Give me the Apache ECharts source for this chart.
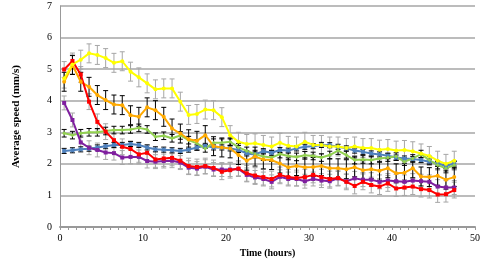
<!DOCTYPE html>
<html>
<head>
<meta charset="utf-8">
<script src="https://cdn.jsdelivr.net/npm/echarts@6/dist/echarts.min.js"></script>
<style>
    html, body { margin: 0; padding: 0; background: #fff; }
    #speed { width: 500px; height: 264px; }
</style>
</head>
<body>
<div id="speed"></div>
<script>
// sample times (hours)
var hours = [0.5, 1.5, 2.5, 3.5, 4.5, 5.5, 6.5, 7.5, 8.5, 9.5, 10.5, 11.5, 12.5, 13.5, 14.5, 15.5,
    16.5, 17.5, 18.5, 19.5, 20.5, 21.5, 22.5, 23.5, 24.5, 25.5, 26.5, 27.5, 28.5, 29.5, 30.5, 31.5,
    32.5, 33.5, 34.5, 35.5, 36.5, 37.5, 38.5, 39.5, 40.5, 41.5, 42.5, 43.5, 44.5, 45.5, 46.5, 47.5];

// average speed (mm/s) per series
var yellow = [4.70, 5.15, 5.30, 5.50, 5.45, 5.35, 5.20, 5.25, 4.92, 4.74, 4.55, 4.36, 4.39, 4.39, 3.97, 3.55,
    3.58, 3.72, 3.70, 3.48, 2.91, 2.70, 2.63, 2.65, 2.60, 2.55, 2.67, 2.57, 2.55, 2.70, 2.60, 2.60,
    2.55, 2.55, 2.50, 2.55, 2.50, 2.50, 2.45, 2.47, 2.42, 2.44, 2.40, 2.33, 2.25, 2.10, 2.00, 2.10];
var orange = [4.60, 5.13, 4.60, 4.44, 4.18, 4.02, 3.88, 3.86, 3.54, 3.49, 3.79, 3.70, 3.49, 3.12, 2.96, 2.78,
    2.73, 2.91, 2.56, 2.52, 2.49, 2.28, 2.10, 2.23, 2.14, 2.12, 2.01, 1.89, 1.93, 1.89, 1.90, 1.93,
    1.86, 1.86, 1.83, 1.89, 1.80, 1.83, 1.78, 1.86, 1.70, 1.72, 1.86, 1.60, 1.58, 1.62, 1.50, 1.58];
var green = [2.97, 2.91, 2.97, 3.00, 3.00, 3.04, 3.07, 3.07, 3.09, 3.14, 3.09, 2.86, 2.89, 2.81, 2.90, 2.75,
    2.65, 2.49, 2.67, 2.67, 2.70, 2.52, 2.41, 2.31, 2.23, 2.20, 2.31, 2.25, 2.22, 2.27, 2.25, 2.20,
    2.28, 2.42, 2.28, 2.12, 2.14, 2.12, 2.17, 2.20, 2.23, 2.07, 2.17, 2.31, 2.12, 1.96, 1.86, 1.96];
var blue = [2.41, 2.43, 2.46, 2.48, 2.52, 2.56, 2.60, 2.60, 2.63, 2.60, 2.52, 2.46, 2.45, 2.43, 2.41, 2.45,
    2.52, 2.57, 2.52, 2.52, 2.49, 2.44, 2.33, 2.30, 2.40, 2.35, 2.44, 2.42, 2.49, 2.54, 2.56, 2.60,
    2.59, 2.54, 2.49, 2.42, 2.38, 2.33, 2.30, 2.26, 2.20, 2.17, 2.15, 2.12, 2.07, 2.01, 1.93, 2.01];
var red = [4.99, 5.26, 4.83, 3.97, 3.33, 3.02, 2.75, 2.54, 2.47, 2.30, 2.35, 2.14, 2.17, 2.19, 2.10, 1.93,
    1.90, 1.93, 1.87, 1.75, 1.80, 1.85, 1.70, 1.63, 1.58, 1.52, 1.65, 1.58, 1.55, 1.58, 1.65, 1.58,
    1.52, 1.55, 1.43, 1.30, 1.43, 1.33, 1.28, 1.38, 1.22, 1.25, 1.28, 1.20, 1.17, 1.03, 1.04, 1.17];
var purple = [3.93, 3.39, 2.68, 2.51, 2.44, 2.36, 2.34, 2.20, 2.22, 2.22, 2.09, 2.07, 2.09, 2.10, 2.04, 1.88,
    1.85, 1.91, 1.82, 1.82, 1.82, 1.84, 1.65, 1.57, 1.52, 1.43, 1.59, 1.52, 1.52, 1.45, 1.52, 1.47,
    1.45, 1.54, 1.45, 1.54, 1.50, 1.50, 1.43, 1.47, 1.45, 1.43, 1.47, 1.45, 1.43, 1.28, 1.25, 1.25];

// half length of the error bars (mm/s)
var errYellow = 0.3, errOrange = 0.3, errGreen = 0.12, errBlue = 0.08, errRed = 0.25, errPurple = 0.22;

var serif = 'Liberation Serif';
var myChart = echarts.init(document.getElementById('speed'));

function lineSeries(name, vals, color, symbol) {
    return {
        type: 'line',
        name: name,
        z: 3,
        data: vals.map(function (v, i) { return [hours[i], v]; }),
        symbol: symbol,
        symbolSize: 4,
        lineStyle: { color: color, width: 2 },
        itemStyle: { color: color },
        animation: false
    };
}

function errSeries(name, vals, err, color) {
    return {
        type: 'custom',
        name: name + ' err',
        z: 2,
        silent: true,
        data: vals.map(function (v, i) { return [hours[i], v - err, v + err]; }),
        renderItem: function (params, api) {
            var top = api.coord([api.value(0), api.value(2)]);
            var bot = api.coord([api.value(0), api.value(1)]);
            var w = 2.5;
            var st = { stroke: color, lineWidth: 1 };
            return {
                type: 'group',
                children: [
                    { type: 'line', shape: { x1: top[0], y1: top[1], x2: bot[0], y2: bot[1] }, style: st },
                    { type: 'line', shape: { x1: top[0] - w, y1: top[1], x2: top[0] + w, y2: top[1] }, style: st },
                    { type: 'line', shape: { x1: bot[0] - w, y1: bot[1], x2: bot[0] + w, y2: bot[1] }, style: st }
                ]
            };
        },
        animation: false
    };
}

var grey = '#a6a6a6';

myChart.setOption({
    backgroundColor: '#fff',
    grid: { left: 60, right: 25, top: 6, bottom: 37 },
    xAxis: {
        type: 'value',
        min: 0, max: 50, interval: 10,
        name: 'Time (hours)',
        nameLocation: 'middle',
        nameGap: 21,
        nameTextStyle: { fontFamily: serif, fontWeight: 'bold', fontSize: 10, color: '#000' },
        axisLine: { lineStyle: { color: '#999', width: 2 } },
        axisTick: { show: true, length: 3, lineStyle: { color: '#999' } },
        minorTick: { show: true, splitNumber: 10, length: 3, lineStyle: { color: '#999' } },
        axisLabel: { fontFamily: serif, fontSize: 10, color: '#000', margin: 6 },
        splitLine: { show: false }
    },
    yAxis: {
        type: 'value',
        min: 0, max: 7, interval: 1,
        name: 'Average speed (mm/s)',
        nameLocation: 'middle',
        nameGap: 38,
        nameTextStyle: { fontFamily: serif, fontWeight: 'bold', fontSize: 11, color: '#000' },
        axisLine: { show: true, lineStyle: { color: '#999', width: 1 } },
        axisTick: { show: false },
        axisLabel: { fontFamily: serif, fontSize: 10, color: '#000', margin: 8 },
        splitLine: { lineStyle: { color: grey, width: 1.5 } }
    },
    series: [
        errSeries('yellow', yellow, errYellow, grey),
        errSeries('red', red, errRed, grey),
        errSeries('purple', purple, errPurple, grey),
        errSeries('orange', orange, errOrange, '#000'),
        errSeries('green', green, errGreen, '#000'),
        errSeries('blue', blue, errBlue, '#000'),
        lineSeries('blue', blue, '#4f81bd', 'rect'),
        lineSeries('green', green, '#92d050', 'diamond'),
        lineSeries('purple', purple, '#7f1f9f', 'rect'),
        lineSeries('orange', orange, '#ffaa00', 'circle'),
        lineSeries('red', red, '#ff0000', 'rect'),
        lineSeries('yellow', yellow, '#ffff00', 'circle')
    ]
});
</script>
</body>
</html>
